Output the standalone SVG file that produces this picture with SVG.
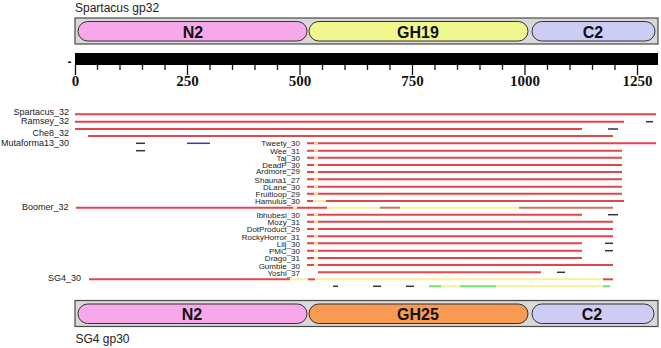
<svg xmlns="http://www.w3.org/2000/svg" width="661" height="348" viewBox="0 0 661 348">
<style>
.title{font-family:"Liberation Sans",Arial,sans-serif;font-size:12px;fill:#222}
.box{fill:#d8d8d8;stroke:#4a4a4a;stroke-width:1.2}
.pill{stroke:#333;stroke-width:1}
.dlab{font-family:"Liberation Sans",Arial,sans-serif;font-size:16px;font-weight:bold;fill:#111;text-anchor:middle}
.sl{font-family:"Liberation Serif","Times New Roman",serif;font-size:15px;font-weight:bold;fill:#111;text-anchor:middle}
.lab{font-family:"Liberation Sans",Arial,sans-serif;font-size:9px;fill:#222;text-anchor:end}
.mlab{font-family:"Liberation Sans",Arial,sans-serif;font-size:8px;fill:#222;text-anchor:end}
.r{stroke:#e0464c;stroke-width:2;fill:none}
.y{stroke:#f6f09a;stroke-width:2;fill:none}
.b{stroke:#c67468;stroke-width:2;fill:none}
.k{stroke:#333;stroke-width:1.5;fill:none}
.bl{stroke:#3a3ab0;stroke-width:1.5;fill:none}
.g{stroke:#72e072;stroke-width:2;fill:none}
.tick{stroke:#111;stroke-width:1.3}
</style>
<rect width="661" height="348" fill="#fff"/>

<g id="top-protein">
<text class="title" x="75" y="12">Spartacus gp32</text>
<rect class="box" x="75" y="18" width="583" height="26"/>
<g id="top-N2"><rect class="pill" x="78" y="21.5" width="229" height="19.5" rx="9.75" fill="#f7a8ea"/><text class="dlab" x="193" y="37.5">N2</text></g>
<g id="top-GH19"><rect class="pill" x="309" y="21.5" width="219" height="19.5" rx="9.75" fill="#f1f78f"/><text class="dlab" x="418" y="37.5">GH19</text></g>
<g id="top-C2"><rect class="pill" x="532" y="21.5" width="123" height="19.5" rx="9.75" fill="#ccccf5"/><text class="dlab" x="593" y="37.5">C2</text></g>
</g>

<g id="scale">
<text x="69.5" y="65.5" style="font-family:'Liberation Sans',Arial,sans-serif;font-size:12px;font-weight:bold;fill:#111" text-anchor="middle">-</text>
<rect x="75" y="53" width="583" height="12" fill="#000"/>
<g class="tick">
<line x1="75.5" y1="65" x2="75.5" y2="75"/><line x1="97.5" y1="65" x2="97.5" y2="70"/><line x1="120" y1="65" x2="120" y2="70"/><line x1="142.5" y1="65" x2="142.5" y2="70"/><line x1="165" y1="65" x2="165" y2="70"/>
<line x1="187.5" y1="65" x2="187.5" y2="75"/><line x1="210" y1="65" x2="210" y2="70"/><line x1="232.5" y1="65" x2="232.5" y2="70"/><line x1="255" y1="65" x2="255" y2="70"/><line x1="277.5" y1="65" x2="277.5" y2="70"/>
<line x1="300" y1="65" x2="300" y2="75"/><line x1="322.5" y1="65" x2="322.5" y2="70"/><line x1="345" y1="65" x2="345" y2="70"/><line x1="367.5" y1="65" x2="367.5" y2="70"/><line x1="390" y1="65" x2="390" y2="70"/>
<line x1="412.5" y1="65" x2="412.5" y2="75"/><line x1="435" y1="65" x2="435" y2="70"/><line x1="457.5" y1="65" x2="457.5" y2="70"/><line x1="480" y1="65" x2="480" y2="70"/><line x1="502.5" y1="65" x2="502.5" y2="70"/>
<line x1="525" y1="65" x2="525" y2="75"/><line x1="547.5" y1="65" x2="547.5" y2="70"/><line x1="570" y1="65" x2="570" y2="70"/><line x1="592.5" y1="65" x2="592.5" y2="70"/><line x1="615" y1="65" x2="615" y2="70"/>
<line x1="637.5" y1="65" x2="637.5" y2="75"/>
</g>
<text class="sl" x="75.5" y="86">0</text><text class="sl" x="187.5" y="86">250</text><text class="sl" x="300" y="86">500</text><text class="sl" x="412.5" y="86">750</text><text class="sl" x="525" y="86">1000</text><text class="sl" x="637.5" y="86">1250</text>
</g>

<g id="labels">
<text class="lab" x="69" y="115">Spartacus_32</text>
<text class="lab" x="69" y="124">Ramsey_32</text>
<text class="lab" x="69" y="135.5">Che8_32</text>
<text class="lab" x="69" y="146">Mutaforma13_30</text>
<text class="lab" x="68.5" y="210">Boomer_32</text>
<text class="lab" x="81" y="280.5">SG4_30</text>
<text class="mlab" x="300" y="146">Tweety_30</text>
<text class="mlab" x="300" y="154">Wee_31</text>
<text class="mlab" x="300" y="161">Taj_30</text>
<text class="mlab" x="300" y="167.5">DeadP_30</text>
<text class="mlab" x="300" y="174">Ardmore_29</text>
<text class="mlab" x="300" y="182.5">Shauna1_27</text>
<text class="mlab" x="300" y="189.5">DLane_30</text>
<text class="mlab" x="300" y="196.5">Fruitloop_29</text>
<text class="mlab" x="300" y="204">Hamulus_30</text>
<text class="mlab" x="300" y="217.5">Ibhubesi_30</text>
<text class="mlab" x="300" y="225">Mozy_31</text>
<text class="mlab" x="300" y="232.3">DotProduct_29</text>
<text class="mlab" x="300" y="240">RockyHorror_31</text>
<text class="mlab" x="300" y="247.3">Lilj_30</text>
<text class="mlab" x="300" y="254">PMC_30</text>
<text class="mlab" x="300" y="261.3">Drago_31</text>
<text class="mlab" x="300" y="268.5">Gumbie_30</text>
<text class="mlab" x="300" y="276">Yoshi_37</text>
</g>

<g id="alignments">
<g id="row-Spartacus_32"><line class="r" x1="75" y1="114.3" x2="656" y2="114.3"/></g>
<g id="row-Ramsey_32"><line class="r" x1="75" y1="121.7" x2="624" y2="121.7"/><line class="k" x1="646" y1="121.7" x2="653" y2="121.7"/></g>
<g id="row-Che8_32"><line class="r" x1="75" y1="129" x2="582" y2="129"/><line class="k" x1="608" y1="129" x2="618" y2="129"/></g>
<g id="row-Mutaforma13_30"><line class="r" x1="88" y1="136" x2="613" y2="136"/><line class="k" x1="136" y1="143.3" x2="145" y2="143.3"/><line class="bl" x1="187" y1="143.3" x2="210" y2="143.3"/><line class="k" x1="136" y1="150.7" x2="145" y2="150.7"/></g>
<g id="row-Tweety_30"><line class="r" x1="307" y1="143.3" x2="656" y2="143.3"/><line class="y" x1="314" y1="143.3" x2="318" y2="143.3"/></g>
<g id="row-Wee_31"><line class="r" x1="307" y1="150.7" x2="622" y2="150.7"/><line class="y" x1="314" y1="150.7" x2="318" y2="150.7"/></g>
<g id="row-Taj_30"><line class="r" x1="307" y1="157.7" x2="622" y2="157.7"/><line class="y" x1="314" y1="157.7" x2="318" y2="157.7"/></g>
<g id="row-DeadP_30"><line class="r" x1="307" y1="165" x2="622" y2="165"/><line class="y" x1="314" y1="165" x2="318" y2="165"/></g>
<g id="row-Ardmore_29"><line class="r" x1="307" y1="172" x2="622" y2="172"/><line class="y" x1="314" y1="172" x2="318" y2="172"/></g>
<g id="row-Shauna1_27"><line class="r" x1="307" y1="179.3" x2="622" y2="179.3"/><line class="y" x1="314" y1="179.3" x2="318" y2="179.3"/></g>
<g id="row-DLane_30"><line class="r" x1="307" y1="186.7" x2="622" y2="186.7"/><line class="y" x1="314" y1="186.7" x2="318" y2="186.7"/></g>
<g id="row-Fruitloop_29"><line class="r" x1="307" y1="193.7" x2="622" y2="193.7"/><line class="y" x1="314" y1="193.7" x2="318" y2="193.7"/></g>
<g id="row-Hamulus_30"><line class="r" x1="307" y1="201" x2="624" y2="201"/><line class="y" x1="313" y1="201" x2="326" y2="201"/></g>
<g id="row-Boomer_32"><line class="r" x1="76" y1="207.7" x2="327" y2="207.7"/><line class="y" x1="293" y1="207.7" x2="297" y2="207.7"/><line class="y" x1="327" y1="207.7" x2="380" y2="207.7"/><line class="b" x1="380" y1="207.7" x2="400" y2="207.7"/><line class="y" x1="400" y1="207.7" x2="519" y2="207.7"/><line class="b" x1="519" y1="207.7" x2="613" y2="207.7"/></g>
<g id="row-Ibhubesi_30"><line class="r" x1="307" y1="214.7" x2="582" y2="214.7"/><line class="y" x1="314" y1="214.7" x2="318" y2="214.7"/><line class="k" x1="608" y1="214.7" x2="618" y2="214.7"/></g>
<g id="row-Mozy_31"><line class="r" x1="307" y1="221.7" x2="613" y2="221.7"/><line class="y" x1="314" y1="221.7" x2="318" y2="221.7"/></g>
<g id="row-DotProduct_29"><line class="r" x1="307" y1="229" x2="613" y2="229"/><line class="y" x1="314" y1="229" x2="318" y2="229"/></g>
<g id="row-RockyHorror_31"><line class="r" x1="307" y1="236.3" x2="613" y2="236.3"/><line class="y" x1="314" y1="236.3" x2="318" y2="236.3"/></g>
<g id="row-Lilj_30"><line class="r" x1="307" y1="243.3" x2="582" y2="243.3"/><line class="y" x1="314" y1="243.3" x2="318" y2="243.3"/><line class="k" x1="605" y1="243.3" x2="613" y2="243.3"/></g>
<g id="row-PMC_30"><line class="r" x1="307" y1="250.7" x2="582" y2="250.7"/><line class="y" x1="314" y1="250.7" x2="318" y2="250.7"/><line class="k" x1="605" y1="250.7" x2="613" y2="250.7"/></g>
<g id="row-Drago_31"><line class="r" x1="307" y1="258" x2="582" y2="258"/><line class="y" x1="314" y1="258" x2="318" y2="258"/></g>
<g id="row-Gumbie_30"><line class="r" x1="307" y1="265" x2="613" y2="265"/><line class="y" x1="314" y1="265" x2="318" y2="265"/></g>
<g id="row-Yoshi_37"><line class="r" x1="318" y1="272.3" x2="541" y2="272.3"/><line class="k" x1="557" y1="272.3" x2="565" y2="272.3"/></g>
<g id="row-SG4_30"><line class="r" x1="89" y1="279.3" x2="290" y2="279.3"/><line class="y" x1="290" y1="279.3" x2="308" y2="279.3"/><line class="r" x1="308" y1="279.3" x2="315" y2="279.3"/><line class="y" x1="315" y1="279.3" x2="603" y2="279.3"/><line class="r" x1="603" y1="279.3" x2="613" y2="279.3"/>
<line class="k" x1="333" y1="286.3" x2="338" y2="286.3"/><line class="k" x1="373" y1="286.3" x2="381" y2="286.3"/><line class="k" x1="406" y1="286.3" x2="414" y2="286.3"/><line class="g" x1="429" y1="286.3" x2="441" y2="286.3"/><line class="y" x1="441" y1="286.3" x2="460" y2="286.3"/><line class="g" x1="460" y1="286.3" x2="496" y2="286.3"/><line class="y" x1="496" y1="286.3" x2="603" y2="286.3"/><line class="g" x1="603" y1="286.3" x2="610" y2="286.3"/></g>
</g>

<g id="bottom-protein">
<rect class="box" x="75" y="300.5" width="583" height="26"/>
<g id="bot-N2"><rect class="pill" x="78" y="304" width="229" height="19.5" rx="9.75" fill="#f7a8ea"/><text class="dlab" x="192" y="319.8">N2</text></g>
<g id="bot-GH25"><rect class="pill" x="309" y="304" width="219" height="19.5" rx="9.75" fill="#f99a52"/><text class="dlab" x="418" y="319.8">GH25</text></g>
<g id="bot-C2"><rect class="pill" x="532" y="304" width="122" height="19.5" rx="9.75" fill="#ccccf5"/><text class="dlab" x="592" y="319.8">C2</text></g>
<text class="title" x="75.5" y="343">SG4 gp30</text>
</g>
</svg>
